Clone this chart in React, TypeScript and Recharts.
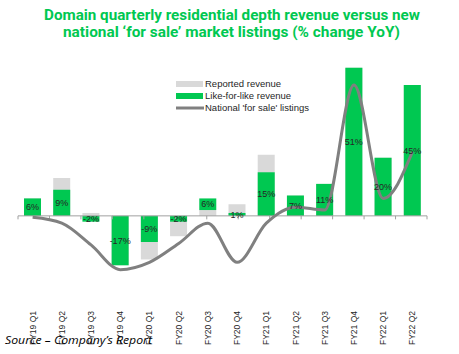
import React from 'react';
import {
  ComposedChart,
  Bar,
  Line,
  XAxis,
  YAxis,
  ReferenceLine,
  Legend,
  LabelList,
} from 'recharts';

const quarters = [
  'FY19 Q1', 'FY19 Q2', 'FY19 Q3', 'FY19 Q4',
  'FY20 Q1', 'FY20 Q2', 'FY20 Q3', 'FY20 Q4',
  'FY21 Q1', 'FY21 Q2', 'FY21 Q3', 'FY21 Q4',
  'FY22 Q1', 'FY22 Q2',
];
// % change YoY
const reportedRevenue = [6, 13, 1, -17, -15, -7, 2, 4, 21, 7, 11, 51, 20, 45];
const likeForLikeRevenue = [6, 9, -2, -17, -9, -2, 6, 1, 15, 7, 11, 51, 20, 45];
// the like-for-like bar sits on top of reported revenue in FY20 Q3
const likeForLikeBase = [0, 0, 0, 0, 0, 0, 2, 0, 0, 0, 0, 0, 0, 0];
const forSaleListings = [-0.5, -2.5, -10, -18.5, -16, -9.5, -2.5, -16, -2.5, 3, 2, 45, 6, 22];

const seriesNames = [
  'Reported revenue',
  'Like-for-like revenue',
  "National 'for sale' listings",
];
const titleLines = [
  'Domain quarterly residential depth revenue versus new',
  'national \u2018for sale\u2019 market listings  (% change YoY)',
];
const sourceNote = 'Source \u2013 Company\u2019s Report';

const GREEN = '#00c851';
const GREY_BAR = '#d9d9d9';
const GREY_LINE = '#808080';
const AXIS = '#a0a0a0';
const TEXT = '#262626';
const FONT = '"Liberation Sans", Arial, sans-serif';

const data = quarters.map((q, i) => ({
  q,
  reported: reportedRevenue[i],
  lfl: likeForLikeRevenue[i],
  lflRange: [likeForLikeBase[i], likeForLikeRevenue[i]],
  listings: forSaleListings[i],
}));

const boundaries = quarters.map((_, i) => i).concat(quarters.length);

const QuarterTick = (props: any) => {
  const { x, y, payload } = props;
  return (
    <text
      transform={`translate(${x},${y + 7}) rotate(-90)`}
      textAnchor="end"
      dy="0.35em"
      style={{ fontSize: '8.5px', fontFamily: FONT }}
      fill={TEXT}
    >
      {payload.value}
    </text>
  );
};

const renderLegend = (props: any) => {
  const items = [...(props.payload || [])].sort(
    (a: any, b: any) => seriesNames.indexOf(a.value) - seriesNames.indexOf(b.value)
  );
  return (
    <div style={{ fontFamily: FONT, fontSize: 9.5, color: TEXT, lineHeight: '12px' }}>
      {items.map((e: any) => (
        <div
          key={e.value}
          style={{ display: 'flex', alignItems: 'center', height: 12, whiteSpace: 'nowrap' }}
        >
          <svg width={28} height={12} style={{ display: 'block' }}>
            {e.type === 'line' ? (
              <line x1={0} x2={28} y1={6} y2={6} stroke={e.color} strokeWidth={3} />
            ) : (
              <rect x={0} y={3} width={27} height={6} fill={e.color} />
            )}
          </svg>
          <span style={{ marginLeft: 1 }}>{e.value}</span>
        </div>
      ))}
    </div>
  );
};

export default function App() {
  return (
    <div
      style={{
        position: 'absolute',
        left: 0,
        top: 0,
        width: 459,
        height: 354,
        background: '#fff',
      }}
    >
      <ComposedChart
        width={459}
        height={354}
        data={data}
        margin={{ top: 56, right: 32, left: 18, bottom: 20 }}
      >
        <XAxis
          dataKey="q"
          xAxisId="cat"
          height={60}
          axisLine={false}
          tickLine={false}
          tickSize={0}
          tickMargin={0}
          interval={0}
          tick={<QuarterTick />}
        />
        <XAxis dataKey="q" xAxisId="back" hide />
        <XAxis xAxisId="num" type="number" domain={[0, quarters.length]} hide />
        <YAxis hide domain={[-20, 55]} allowDataOverflow />
        <Legend
          layout="horizontal"
          verticalAlign="middle"
          align="center"
          content={renderLegend}
          wrapperStyle={{ top: 78, left: 176, width: 'auto' }}
        />
        <Bar
          xAxisId="back"
          dataKey="reported"
          name={seriesNames[0]}
          fill={GREY_BAR}
          barSize={17}
          isAnimationActive={false}
        />
        <Bar
          xAxisId="cat"
          dataKey="lflRange"
          name={seriesNames[1]}
          fill={GREEN}
          barSize={17}
          isAnimationActive={false}
        >
          <LabelList
            dataKey="lfl"
            position="center"
            formatter={(v: any) => `${v}%`}
            fontSize={9}
            fontFamily={FONT}
            fill={TEXT}
          />
        </Bar>
        <ReferenceLine xAxisId="cat" y={0} stroke={AXIS} strokeWidth={1} />
        {boundaries.map(b => (
          <ReferenceLine
            key={b}
            xAxisId="num"
            segment={[
              { x: b, y: 0 },
              { x: b, y: -1.2 },
            ]}
            stroke={AXIS}
          />
        ))}
        <Line
          xAxisId="cat"
          type="monotone"
          dataKey="listings"
          name={seriesNames[2]}
          stroke={GREY_LINE}
          strokeWidth={3}
          dot={false}
          activeDot={false}
          legendType="line"
          isAnimationActive={false}
        />
      </ComposedChart>
      <svg
        width={459}
        height={354}
        style={{ position: 'absolute', left: 0, top: 0, pointerEvents: 'none' }}
      >
        <text
          x={232}
          y={19.5}
          textAnchor="middle"
          fontFamily="Roboto, sans-serif"
          fontWeight={700}
          fontSize={15}
          fill={GREEN}
          textLength={376}
          lengthAdjust="spacingAndGlyphs"
        >
          {titleLines[0]}
        </text>
        <text
          x={231.5}
          y={36.5}
          textAnchor="middle"
          fontFamily="Roboto, sans-serif"
          fontWeight={700}
          fontSize={15}
          fill={GREEN}
          textLength={337}
          lengthAdjust="spacingAndGlyphs"
        >
          {titleLines[1]}
        </text>
        <text
          x={5}
          y={344}
          fontFamily='"Open Sans", sans-serif'
          fontStyle="italic"
          fontSize={11.5}
          fill="#000"
          textLength={147}
          lengthAdjust="spacingAndGlyphs"
        >
          {sourceNote}
        </text>
      </svg>
    </div>
  );
}
